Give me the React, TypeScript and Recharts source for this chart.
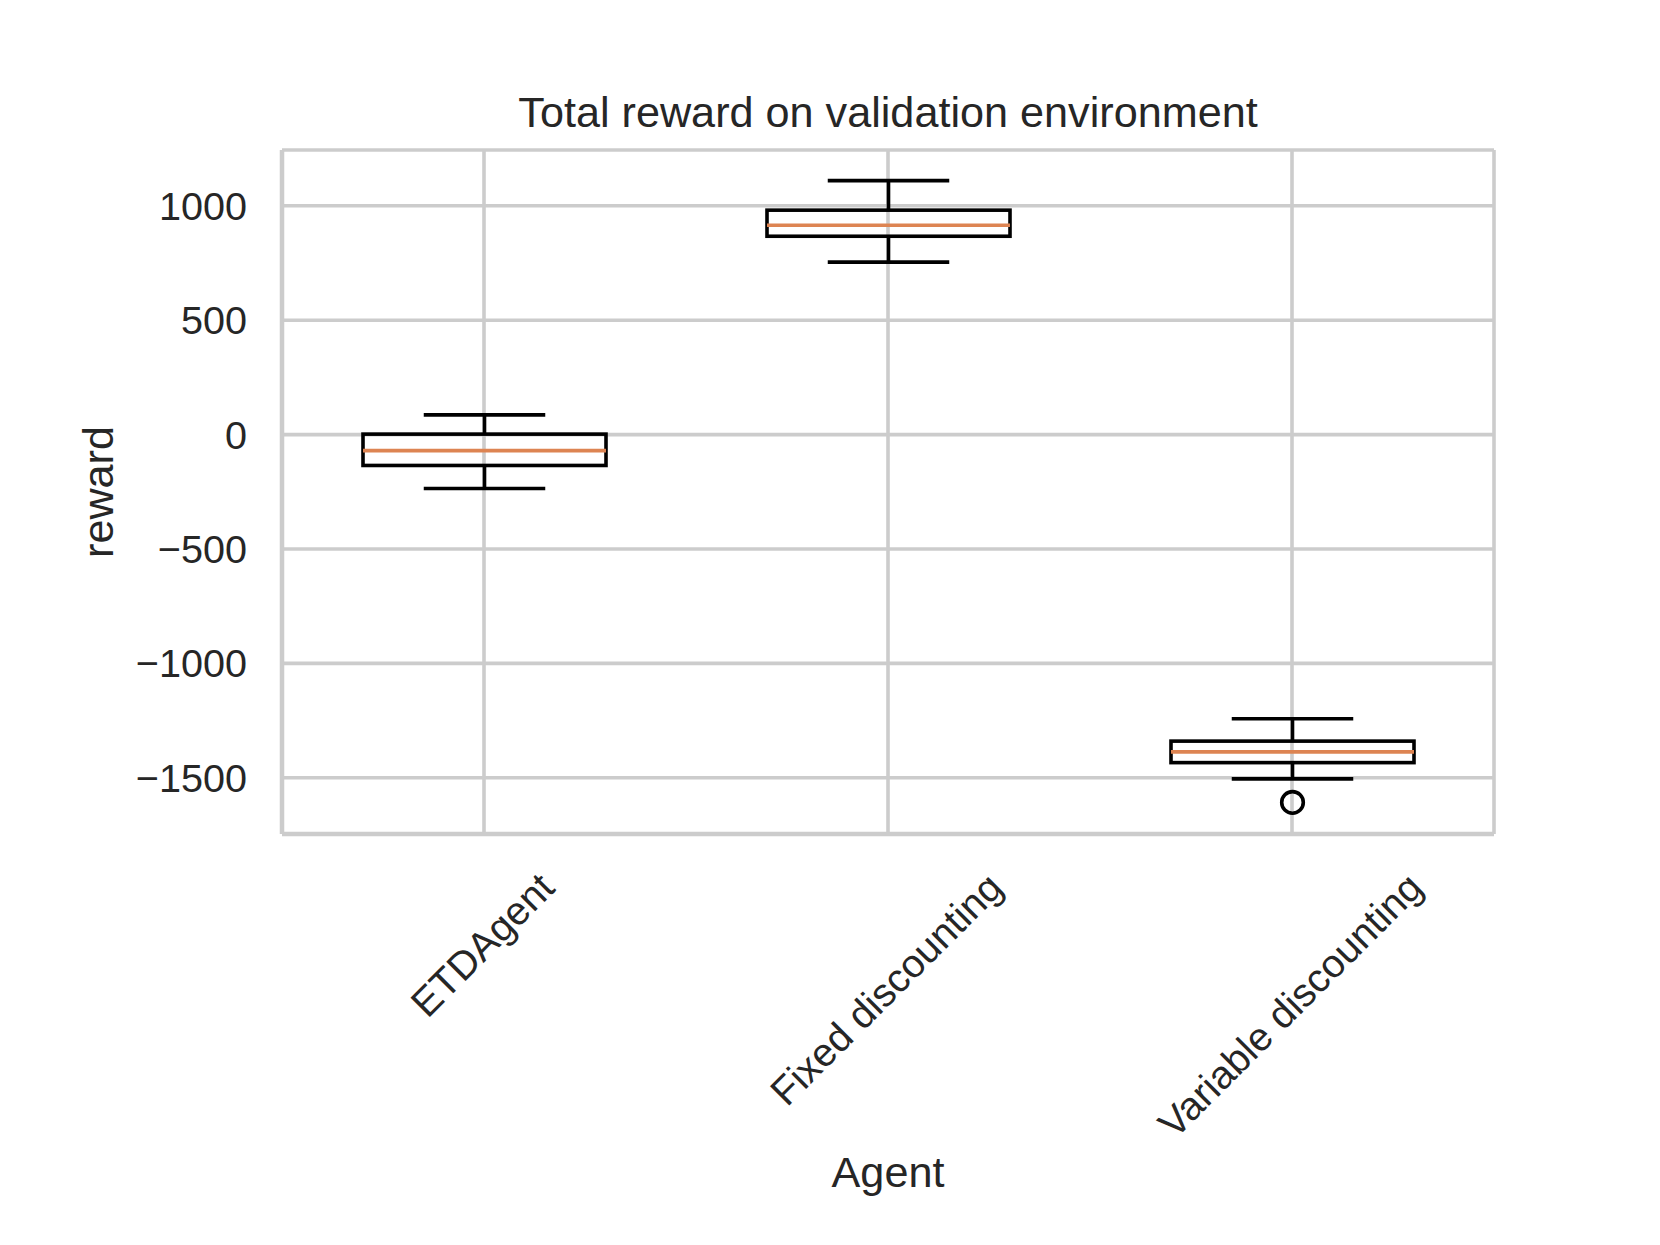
import React from "react"
import { ComposedChart, Bar, XAxis, YAxis, CartesianGrid } from "recharts"

// boxplot stats
const agents = ["ETDAgent", "Fixed discounting", "Variable discounting"]
const whiskerLow = [-236, 754, -1505]
const q1 = [-135, 867, -1434]
const medians = [-70, 915, -1387]
const q3 = [2, 981, -1340]
const whiskerHigh = [86, 1110, -1242]
const outliers = [[], [], [-1608]]

const yTicks = [-1500, -1000, -500, 0, 500, 1000]
const yDomain = [-1746, 1244]

const FONT = '"Liberation Sans", Arial, Helvetica, sans-serif'
const TEXT = "#262626"
const GRID = "#cccccc"
const TICK_FS = 39.6
const LABEL_FS = 43.2
const LW = 3.6

const rows = agents.map((name, i) => ({
  name,
  lo: whiskerLow[i],
  q1: q1[i],
  med: medians[i],
  q3: q3[i],
  hi: whiskerHigh[i],
  out: outliers[i],
}))

let ctx: CanvasRenderingContext2D | null = null
function textWidth(s: string, size: number) {
  if (!ctx) ctx = document.createElement("canvas").getContext("2d")
  if (!ctx) return s.length * size * 0.5
  ctx.font = `${size}px "Liberation Sans"`
  return ctx.measureText(s).width
}

const fmt = (v: number) => (v < 0 ? "\u2212" + Math.abs(v) : String(v))

function BoxShape(props: any) {
  const { x, y, width, height, payload } = props
  if (!payload) return null
  const { lo, hi } = payload
  // bar spans [lo, hi]; map other stats linearly on the same scale
  const py = (v: number) => y + ((hi - v) / (hi - lo)) * height
  const cx = x + width / 2
  const capHalf = width / 4
  const yq1 = py(payload.q1)
  const yq3 = py(payload.q3)
  return (
    <g>
      <line x1={cx} x2={cx} y1={py(hi)} y2={yq3} stroke="#000" strokeWidth={LW} />
      <line x1={cx} x2={cx} y1={yq1} y2={py(lo)} stroke="#000" strokeWidth={LW} />
      <line x1={cx - capHalf} x2={cx + capHalf} y1={py(hi)} y2={py(hi)} stroke="#000" strokeWidth={LW} />
      <line x1={cx - capHalf} x2={cx + capHalf} y1={py(lo)} y2={py(lo)} stroke="#000" strokeWidth={LW} />
      <rect x={x} y={yq3} width={width} height={yq1 - yq3} fill="none" stroke="#000" strokeWidth={LW} />
      <line x1={x} x2={x + width} y1={py(payload.med)} y2={py(payload.med)} stroke="#dd8452" strokeWidth={LW} />
      {payload.out.map((o: number, k: number) => (
        <circle key={k} cx={cx} cy={py(o)} r={10.8} fill="none" stroke="#000" strokeWidth={LW} />
      ))}
    </g>
  )
}

function XTick(props: any) {
  const { x, y, payload } = props
  const label = String(payload.value)
  const w = textWidth(label, TICK_FS)
  const top = y + 36
  const cx = x - 2
  const cy = top + 0.7071 * (w / 2 + 0.36 * TICK_FS)
  return (
    <text
      x={cx}
      y={cy}
      dy="0.355em"
      textAnchor="middle"
      transform={`rotate(-45 ${cx} ${cy})`}
      fontSize={TICK_FS}
      fontFamily={FONT}
      fill={TEXT}
    >
      {label}
    </text>
  )
}

export default function App() {
  const frame = { stroke: GRID, strokeWidth: 4.5 }
  return (
    <div style={{ position: "absolute", left: 0, top: 0, width: 1660, height: 1245, background: "#fff" }}>
      <ComposedChart
        width={1660}
        height={1245}
        data={rows}
        margin={{ top: 150, right: 166, bottom: 0, left: 0 }}
        barCategoryGap={0}
        style={{ fontFamily: FONT }}
      >
        <CartesianGrid stroke={GRID} strokeWidth={LW} />
        <XAxis
          dataKey="name"
          height={411}
          tickSize={0}
          tickMargin={0}
          interval={0}
          axisLine={frame}
          tick={<XTick />}
        />
        <XAxis xAxisId="top" dataKey="name" orientation="top" height={0} tick={false} tickLine={false} axisLine={frame} />
        <YAxis
          type="number"
          domain={yDomain}
          ticks={yTicks}
          allowDataOverflow
          width={282}
          tickSize={0}
          tickMargin={35}
          tickFormatter={fmt}
          axisLine={frame}
          tick={{ fill: TEXT, fontSize: TICK_FS, fontFamily: FONT }}
        />
        <YAxis
          yAxisId="right"
          orientation="right"
          type="number"
          domain={yDomain}
          allowDataOverflow
          width={0}
          tick={false}
          tickLine={false}
          axisLine={frame}
        />
        <Bar
          dataKey={(d: any) => [d.lo, d.hi]}
          barSize={243}
          shape={(p: any) => <BoxShape {...p} />}
          isAnimationActive={false}
        />
      </ComposedChart>
      <svg
        width={1660}
        height={1245}
        style={{ position: "absolute", left: 0, top: 0, pointerEvents: "none" }}
        fontFamily={FONT}
        fill={TEXT}
      >
        <text x={888} y={127} textAnchor="middle" fontSize={LABEL_FS}>
          Total reward on validation environment
        </text>
        <text x={888} y={1187} textAnchor="middle" fontSize={LABEL_FS}>
          Agent
        </text>
        <text transform="translate(113 492) rotate(-90)" textAnchor="middle" fontSize={LABEL_FS}>
          reward
        </text>
      </svg>
    </div>
  )
}
